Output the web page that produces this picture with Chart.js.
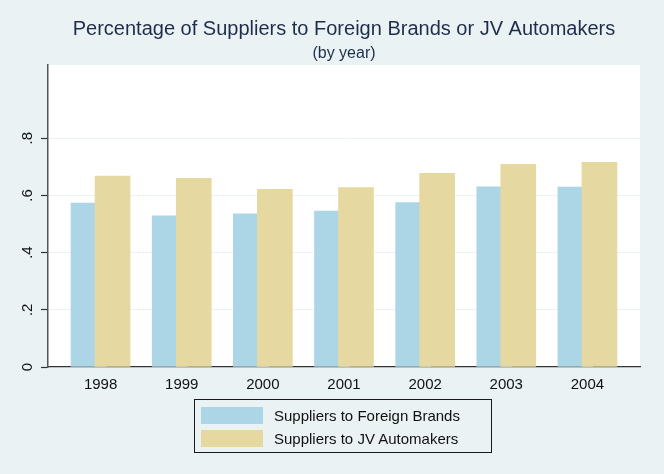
<!DOCTYPE html>
<html>
<head>
<meta charset="utf-8">
<script src="https://cdn.jsdelivr.net/npm/chart.js@4"></script>
<style>
  html, body { margin: 0; padding: 0; background: #eaf2f3; }
  #wrap { position: relative; width: 664px; height: 474px; }
  #legend {
    position: absolute; left: 194px; top: 399px; width: 296px; height: 52px;
    border: 1px solid #1a1a1a; font-family: "Liberation Sans", Arial, sans-serif;
    font-size: 15px; color: #111;
  }
  .item { position: absolute; left: 6px; height: 17px; display: flex; align-items: center; }
  .swatch { width: 62px; height: 17px; margin-right: 11px; }
</style>
</head>
<body>
<div id="wrap">
  <canvas id="chart" width="664" height="474"></canvas>
  <div id="legend"></div>
</div>
<script>
const years = ["1998", "1999", "2000", "2001", "2002", "2003", "2004"];
const foreignBrands = [0.573, 0.529, 0.536, 0.545, 0.575, 0.630, 0.629];
const jvAutomakers = [0.668, 0.660, 0.621, 0.627, 0.677, 0.709, 0.716];
const yTicks = [0, 0.2, 0.4, 0.6, 0.8];

const colorForeign = "#acd6e5";
const colorJv = "#e5d8a1";
const barShift = 0.148; // overlap of the two bars, in category units

const legend = document.getElementById("legend");
[["Suppliers to Foreign Brands", colorForeign], ["Suppliers to JV Automakers", colorJv]]
  .forEach(([label, color], i) => {
    const item = document.createElement("div");
    item.className = "item";
    item.style.top = (7 + i * 22.6) + "px";
    item.innerHTML = `<span class="swatch" style="background:${color}"></span><span>${label}</span>`;
    legend.appendChild(item);
  });

const plotBackground = {
  id: "plotBackground",
  beforeDraw(chart) {
    const { ctx, chartArea: a } = chart;
    ctx.save();
    ctx.fillStyle = "#ffffff";
    ctx.fillRect(a.left, a.top, a.right - a.left, a.bottom - a.top);
    ctx.restore();
  },
};

Chart.defaults.font.family = '"Liberation Sans", Arial, sans-serif';
Chart.defaults.color = "#111";

new Chart(document.getElementById("chart"), {
  type: "bar",
  data: {
    datasets: [
      {
        label: "Suppliers to Foreign Brands",
        data: foreignBrands.map((v, i) => ({ x: i - barShift, y: v })),
        backgroundColor: colorForeign,
        order: 2,
      },
      {
        label: "Suppliers to JV Automakers",
        data: jvAutomakers.map((v, i) => ({ x: i + barShift, y: v })),
        backgroundColor: colorJv,
        order: 1,
      },
    ],
  },
  options: {
    responsive: false,
    animation: false,
    layout: { padding: { left: 0, right: 24, top: 0, bottom: 0 } },
    datasets: { bar: { grouped: false, barThickness: 35 } },
    plugins: {
      legend: { display: false },
      tooltip: { enabled: false },
      title: {
        display: true,
        fullSize: false,
        text: "Percentage of Suppliers to Foreign Brands or JV Automakers",
        color: "#1f2d4d",
        font: { size: 20, weight: "normal" },
        padding: { top: 17, bottom: 0 },
      },
      subtitle: {
        display: true,
        fullSize: false,
        text: "(by year)",
        color: "#1f2d4d",
        font: { size: 16, weight: "normal" },
        padding: { top: 3, bottom: 1.8 },
      },
    },
    scales: {
      x: {
        type: "linear",
        offset: false,
        min: -0.648,
        max: 6.648,
        afterBuildTicks(scale) {
          scale.ticks = years.map((y, i) => ({ value: i }));
        },
        afterFit(scale) { scale.height = 107; },
        ticks: {
          autoSkip: false,
          maxRotation: 0,
          padding: 9,
          font: { size: 15 },
          callback: (v) => years[v],
        },
        grid: { display: false, drawTicks: false },
        border: { display: true, color: "#333", width: 1.2 },
      },
      y: {
        min: 0,
        max: 1.056,
        afterBuildTicks(scale) {
          scale.ticks = yTicks.map((v) => ({ value: v }));
        },
        afterFit(scale) { scale.width = 48; },
        ticks: {
          minRotation: 90,
          maxRotation: 90,
          crossAlign: "center",
          padding: 7,
          font: { size: 15 },
          callback: (v) => (v === 0 ? "0" : v.toFixed(1).replace("0.", ".")),
        },
        grid: { color: "#eaf2f3", lineWidth: 1, tickColor: "#333", tickWidth: 1.2, tickLength: 7 },
        border: { display: true, color: "#555", width: 1.5 },
      },
    },
  },
  plugins: [plotBackground],
});
</script>
</body>
</html>
